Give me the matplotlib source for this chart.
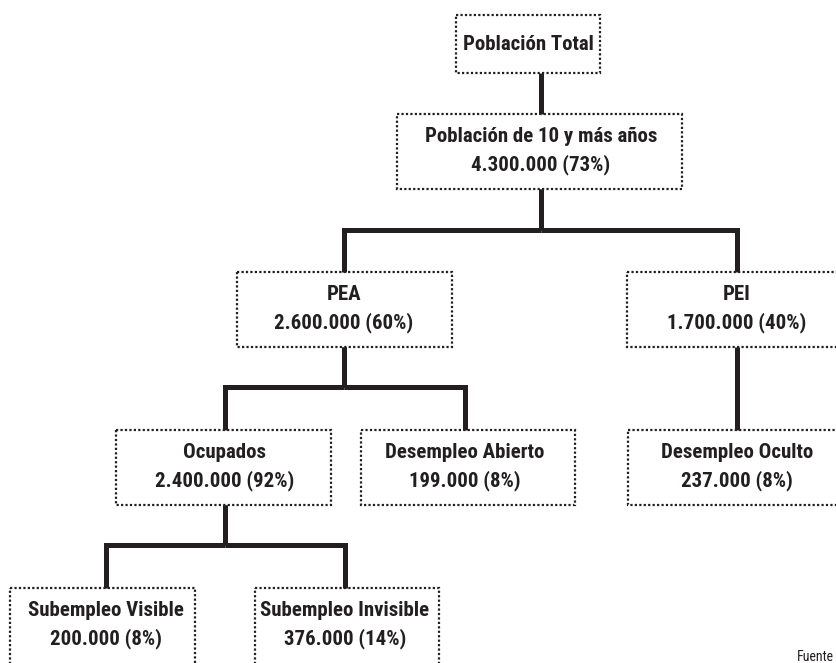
import matplotlib.pyplot as plt
from matplotlib.patches import Rectangle

plt.rcParams['font.family'] = ['Roboto Condensed', 'Archivo Narrow', 'DejaVu Sans']

# node data
names = ['Población Total', 'Población de 10 y más años', 'PEA', 'PEI',
         'Ocupados', 'Desempleo Abierto', 'Desempleo Oculto',
         'Subempleo Visible', 'Subempleo Invisible']
values = ['', '4.300.000 (73%)', '2.600.000 (60%)', '1.700.000 (40%)',
          '2.400.000 (92%)', '199.000 (8%)', '237.000 (8%)',
          '200.000 (8%)', '376.000 (14%)']
parents = [None, 0, 1, 1, 2, 2, 3, 4, 4]

# layout in pixels: box (x0, y0, x1, y1) and text centre x
boxes = [(456, 15, 600, 73), (397, 114, 682, 189),
         (237, 272, 452, 347), (627, 272, 845, 347),
         (116, 430, 331, 505), (361, 430, 575, 505), (628, 430, 845, 505),
         (10, 588, 195, 672), (255, 588, 439, 672)]
cx = [528, 541, 344, 737, 225, 465, 737, 106, 345]
bar_y = {1: 230, 2: 387, 4: 545}

fig = plt.figure(figsize=(8.37, 6.63), dpi=100)
ax = fig.add_axes([0, 0, 1, 1])
ax.set_xlim(0, 837)
ax.set_ylim(663, 0)
ax.axis('off')

ink = '#231f20'

for i, (x0, y0, x1, y1) in enumerate(boxes):
    ax.add_patch(Rectangle((x0, y0), x1 - x0, y1 - y0, fill=False,
                           edgecolor=ink, lw=1.6, ls=(0, (1, 1))))
    txt = names[i] if values[i] == '' else names[i] + '\n' + values[i]
    ty = y0 + (30 if i == 0 else 37)
    ax.text(cx[i], ty, txt, ha='center', va='center', fontsize=15,
            fontweight='bold', color=ink, linespacing=1.5)

# connectors
lw = 3.6
for i, p in enumerate(parents):
    if p is None:
        continue
    top = boxes[i][1]
    pb = boxes[p][3]
    if p in bar_y:
        by = bar_y[p]
        ax.plot([cx[p], cx[p]], [pb, by], color=ink, lw=lw, solid_capstyle='butt')
        ax.plot([cx[p], cx[i], cx[i]], [by, by, top], color=ink, lw=lw,
                solid_joinstyle='miter', solid_capstyle='butt')
    else:
        ax.plot([cx[i], cx[i]], [pb, top], color=ink, lw=lw, solid_capstyle='butt')

ax.text(797, 661, 'Fuente', ha='left', va='baseline', fontsize=10, color=ink)

fig.savefig('out.png', dpi=100)
